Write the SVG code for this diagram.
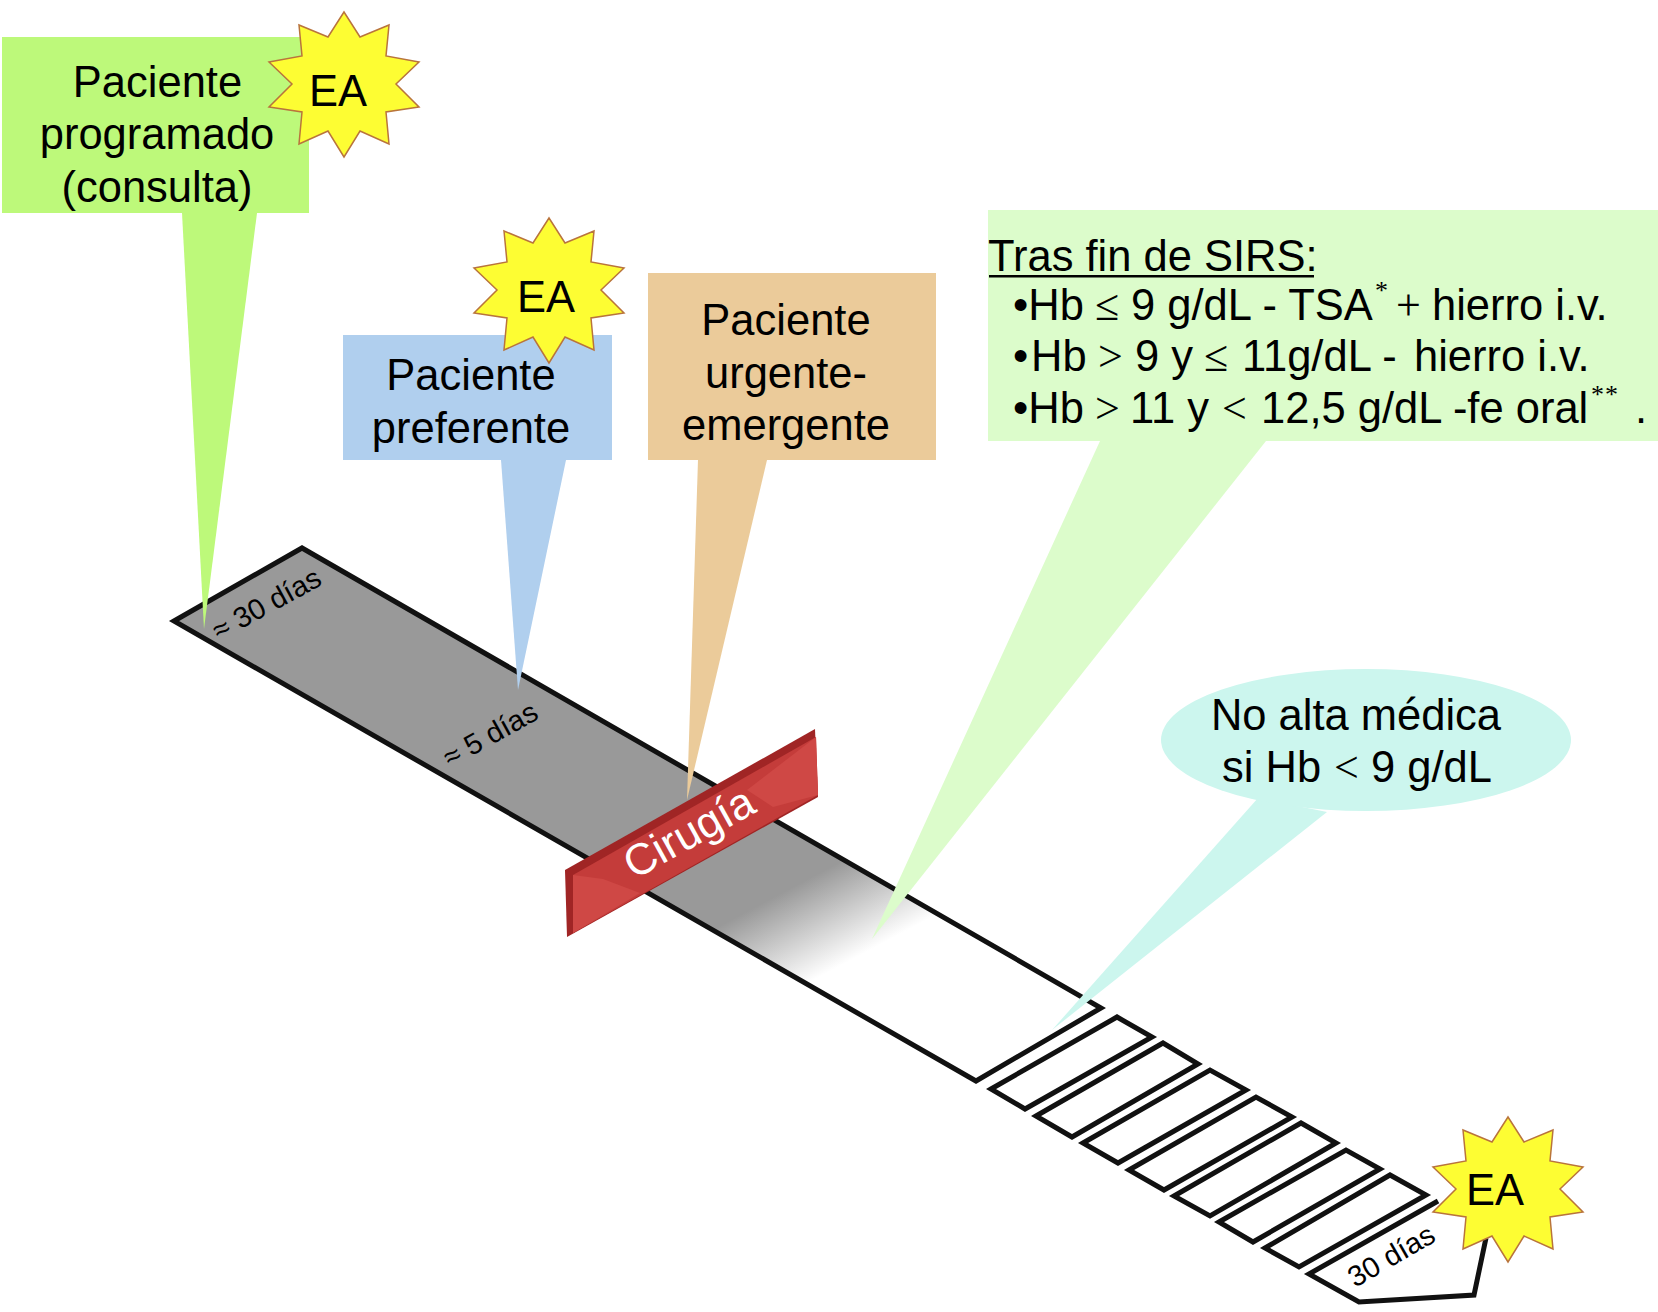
<svg xmlns="http://www.w3.org/2000/svg" width="1658" height="1312" viewBox="0 0 1658 1312">
<style>
text{font-family:"Liberation Sans",Arial,sans-serif;fill:#000}
.t{font-size:43.500px}
.m{text-anchor:middle}
.s{font-family:"Liberation Serif","DejaVu Serif",serif;font-size:44px}
.a{font-family:"Liberation Serif","DejaVu Serif",serif;font-size:26px}
.d{font-size:29px}
.slat{fill:#fff;stroke:#111;stroke-width:5;stroke-linejoin:miter}
.star{fill:#fdfd33;stroke:#b9743c;stroke-width:1.500}
</style>
<defs>
<linearGradient id="fade" gradientUnits="userSpaceOnUse" x1="729" y1="921" x2="772" y2="1002">
<stop offset="0" stop-color="#999"/><stop offset="1" stop-color="#fff"/>
</linearGradient>
<polygon id="starShape" class="star" points="0,-72 16,-47 45,-59 42,-28 75,-22 52,0 75,23 42,28 45,60 16,47 0,73 -16,47 -45,60 -42,28 -75,23 -52,0 -75,-22 -42,-28 -45,-59 -16,-47"/>
</defs>
<rect width="1658" height="1312" fill="#fff"/>
<g id="band">
<polygon points="174,621 302,548 1101,1008 976,1081" fill="url(#fade)" stroke="#111" stroke-width="5"/>
<text class="d" transform="translate(219 641) rotate(-28.600)">≈ 30 días</text>
<text class="d" transform="translate(450 768) rotate(-29)" font-size="28">≈ 5 días</text>
</g>
<g id="slats">
<polygon class="slat" points="991,1089 1117,1017 1152,1037 1025,1109"/>
<polygon class="slat" points="1036,1116 1163,1043 1198,1064 1072,1137"/>
<polygon class="slat" points="1083,1143 1210,1070 1246,1090 1118,1163"/>
<polygon class="slat" points="1129,1170 1256,1097 1292,1117 1164,1190"/>
<polygon class="slat" points="1174,1196 1301,1123 1336,1143 1210,1216"/>
<polygon class="slat" points="1219,1222 1346,1150 1380,1169 1253,1242"/>
<polygon class="slat" points="1265,1248 1390,1175 1426,1195 1299,1267"/>
</g>
<g id="final-period">
<polyline points="1438,1201 1309,1274 1359,1302 1474,1295 1486,1238" fill="#fff" stroke="#111" stroke-width="5"/>
<text class="d" transform="translate(1355 1288) rotate(-30)">30 días</text>
</g>
<g id="connectors">
<polygon points="182,213 257,213 204,629" fill="#bdf97a"/>
<polygon points="501,460 566,460 518,690" fill="#b0cfee"/>
<polygon points="698,460 767,460 687,800" fill="#ebcb9a"/>
<polygon points="1100,441 1266,441 872,939" fill="#dcfccb"/>
<polygon points="1258,798 1327,812 1052,1030" fill="#ccf6ee"/>
</g>
<g id="surgery">
<polygon points="565,870 815,729 818,797 567,937" fill="#a02525"/>
<polygon points="573,875 816,737 818,795 573,933" fill="#c43c3a"/>
<polygon points="573,875 603,879 640,893 573,933" fill="#cf4845"/>
<polygon points="816,737 747,790 773,807 818,795" fill="#cf4845"/>
<text transform="translate(634 880) rotate(-29)" font-size="44" style="fill:#fff">Cirugía</text>
</g>
<g id="programado">
<rect x="2" y="37" width="307" height="176" fill="#bdf97a"/>
<text class="t m" x="157.500" y="97">Paciente</text>
<text class="t m" x="157" y="149">programado</text>
<text class="t m" x="157" y="202">(consulta)</text>
</g>
<g id="ea-1"><use href="#starShape" x="344" y="84"/><text class="t m" x="338" y="106">EA</text></g>
<g id="preferente">
<rect x="343" y="335" width="269" height="125" fill="#b0cfee"/>
<text class="t m" x="471" y="390">Paciente</text>
<text class="t m" x="471" y="443">preferente</text>
</g>
<g id="ea-2"><use href="#starShape" x="549" y="290"/><text class="t m" x="546" y="312">EA</text></g>
<g id="urgente">
<rect x="648" y="273" width="288" height="187" fill="#ebcb9a"/>
<text class="t m" x="786" y="335">Paciente</text>
<text class="t m" x="786" y="388">urgente-</text>
<text class="t m" x="786" y="440">emergente</text>
</g>
<g id="sirs">
<rect x="988" y="210" width="670" height="231" fill="#dcfccb"/>
<text class="t" x="988" y="271">Tras fin de SIRS:</text>
<rect x="989" y="275" width="325" height="2.500" fill="#000"/>
<text class="t" y="320"><tspan x="1013">•Hb</tspan><tspan class="s" x="1095">≤</tspan><tspan x="1131">9 g/dL - TSA</tspan><tspan class="s" x="1396">+</tspan><tspan x="1432">hierro i.v.</tspan></text>
<text class="a" x="1375" y="299">*</text>
<text class="t" y="371"><tspan x="1013">•</tspan><tspan x="1031">Hb</tspan><tspan class="s" x="1098">&gt;</tspan><tspan x="1135">9 y</tspan><tspan class="s" x="1204">≤</tspan><tspan x="1242">11g/dL -</tspan><tspan x="1414">hierro i.v.</tspan></text>
<text class="t" y="423"><tspan x="1013">•Hb</tspan><tspan class="s" x="1095">&gt;</tspan><tspan x="1130">11 y</tspan><tspan class="s" x="1222">&lt;</tspan><tspan x="1261">12,5 g/dL -fe oral</tspan><tspan x="1635">.</tspan></text>
<text class="a" x="1591" y="403" letter-spacing="1">**</text>
</g>
<g id="alta">
<ellipse cx="1366" cy="740" rx="205" ry="71" fill="#ccf6ee"/>
<text class="t m" x="1356" y="730">No alta médica</text>
<text class="t" y="782"><tspan x="1222">si Hb</tspan><tspan class="s" x="1334">&lt;</tspan><tspan x="1371">9 g/dL</tspan></text>
</g>
<g id="ea-3"><use href="#starShape" x="1508" y="1189"/><text class="t m" x="1495" y="1205">EA</text></g>
</svg>
